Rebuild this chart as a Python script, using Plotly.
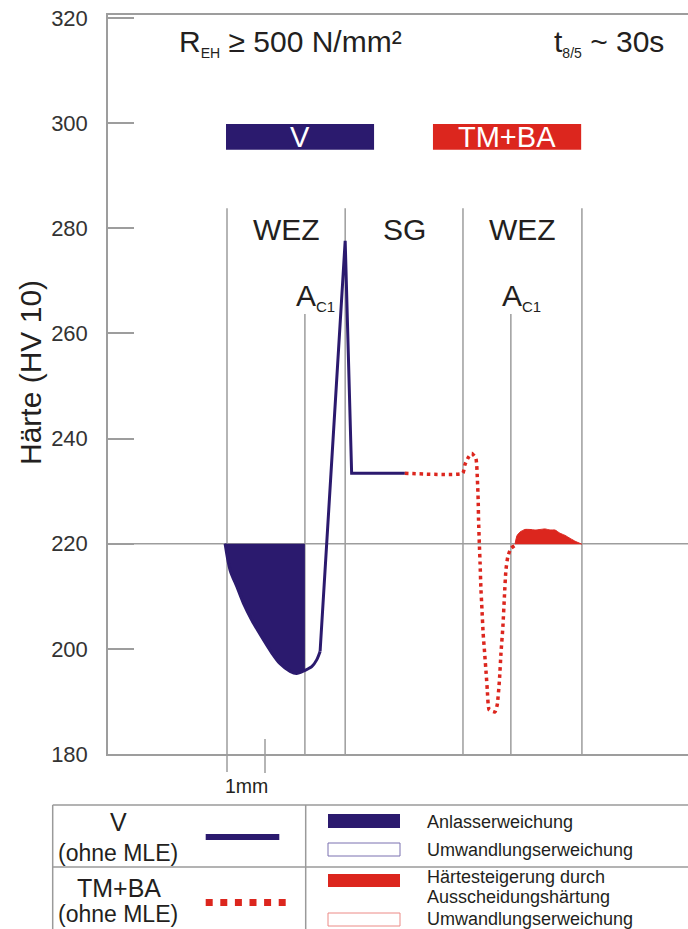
import plotly.graph_objects as go

# ---------------------------------------------------------------------------
# Data: hardness profile across the weld (distance in mm, hardness in HV 10)
# ---------------------------------------------------------------------------
# V steel (without MLE): tempering softening dip, steep peak at the fusion line,
# then the weld metal (SG) plateau
v_dist_mm = [-0.05, 0.08, 0.26, 0.43, 0.65, 0.91, 1.18, 1.39, 1.66, 1.83,
             2.05, 2.23, 2.36, 2.45, 3.11, 3.28, 4.68]
v_hardness = [220.0, 215.0, 211.8, 208.7, 205.5, 202.3, 199.2, 197.2, 195.7, 195.3,
              195.9, 196.6, 197.9, 199.5, 277.6, 233.4, 233.4]

# TM+BA steel (without MLE): weld metal plateau, small peak, deep
# transformation softening, recovery towards the base level
tm_dist_mm = [4.68, 6.20, 6.26, 6.35, 6.44, 6.55, 6.59, 6.61, 6.62, 6.64,
              6.66, 6.68, 6.71, 6.74, 6.78, 6.82, 6.85, 6.90, 7.05, 7.11,
              7.17, 7.21, 7.26, 7.30, 7.34, 7.39, 7.47, 7.58]
tm_hardness = [233.4, 233.4, 235.0, 236.4, 237.2, 236.2, 232.1, 228.3, 224.5, 220.1,
               216.3, 211.8, 207.4, 203.0, 199.2, 195.3, 192.2, 188.4, 188.0, 189.3,
               194.1, 199.2, 204.2, 209.9, 215.0, 217.5, 219.1, 219.7]

# TM+BA precipitation hardening region (above the base hardness)
ph_dist_mm = [7.58, 7.63, 7.71, 7.84, 7.97, 8.11, 8.24, 8.37, 8.50, 8.63,
              8.76, 8.89, 9.03, 9.18, 9.34]
ph_hardness = [219.9, 221.5, 222.2, 222.7, 222.7, 222.6, 222.7, 222.8, 222.6, 222.6,
               222.0, 221.6, 221.0, 220.4, 219.9]

base_hardness = 220
ac1_v_mm = 2.05          # A_C1 position, V side
zone_bounds_mm = [0.0, 3.11, 6.21, 9.34]   # HAZ / weld metal / HAZ borders
ac1_lines_mm = [2.05, 7.47]
zone_labels = ["WEZ", "SG", "WEZ"]
y_ticks = [180, 200, 220, 240, 260, 280, 300, 320]

NAVY = "#2b1a6e"
RED = "#dc261e"
GRID = "#9d9d9d"
TXT = "#231f20"
FONT = "Liberation Sans, Arial, sans-serif"

# plot frame in pixels
L, T, W, H = 108, 15, 580, 739
XMIN, XMAX = (108 - 227) / 38, (688 - 227) / 38
YMIN, YMAX = 180, 180 + H / 5.258


def xp(px):
    return (px - L) / W


def yp(py):
    return (T + H - py) / H


def xmm_paper(x):
    return (x - XMIN) / (XMAX - XMIN)


def label(x, y, text, size, xref="paper", yref="paper", xanchor="center",
          color=TXT, **kw):
    return dict(x=x, y=y, xref=xref, yref=yref, text=text, showarrow=False,
                xanchor=xanchor, yanchor="middle",
                font=dict(family=FONT, size=size, color=color), **kw)


fig = go.Figure()

# split of the V curve: smooth softening dip / straight peak + plateau
n_dip = v_dist_mm.index(2.45) + 1
n_fill = v_dist_mm.index(ac1_v_mm) + 1

# tempering softening: area between base hardness and the V curve up to A_C1
fig.add_trace(go.Scatter(
    x=[v_dist_mm[0], ac1_v_mm], y=[base_hardness, base_hardness],
    mode="lines", line=dict(width=0, color=NAVY), hoverinfo="skip",
    showlegend=False))
fig.add_trace(go.Scatter(
    x=v_dist_mm[:n_fill], y=v_hardness[:n_fill],
    mode="lines", fill="tonexty", fillcolor=NAVY,
    line=dict(color=NAVY, width=1, shape="spline", smoothing=0.8),
    hoverinfo="skip", showlegend=False))

# precipitation hardening (filled)
fig.add_trace(go.Scatter(
    x=ph_dist_mm, y=ph_hardness, mode="lines", fill="toself", fillcolor=RED,
    line=dict(color=RED, width=1, shape="spline", smoothing=0.6),
    hoverinfo="skip", showlegend=False))

# V curve
fig.add_trace(go.Scatter(
    x=v_dist_mm[:n_dip], y=v_hardness[:n_dip], mode="lines",
    line=dict(color=NAVY, width=3, shape="spline", smoothing=0.8),
    showlegend=False, name="V"))
fig.add_trace(go.Scatter(
    x=v_dist_mm[n_dip - 1:], y=v_hardness[n_dip - 1:], mode="lines",
    line=dict(color=NAVY, width=3), showlegend=False, name="V"))

# TM+BA curve
fig.add_trace(go.Scatter(
    x=tm_dist_mm, y=tm_hardness, mode="lines",
    line=dict(color=RED, width=3.5, dash="3.5px,3.8px", shape="spline", smoothing=0.5),
    showlegend=False, name="TM+BA"))

shapes = []
# base hardness line across the whole frame
shapes.append(dict(type="line", xref="paper", yref="y", x0=0, x1=1,
                   y0=base_hardness, y1=base_hardness,
                   line=dict(color=GRID, width=1.5), layer="below"))
# zone borders
for xb in zone_bounds_mm:
    shapes.append(dict(type="line", xref="x", yref="y", x0=xb, x1=xb,
                       y0=YMIN, y1=283.8, line=dict(color=GRID, width=1.5),
                       layer="below"))
for xb in ac1_lines_mm:
    shapes.append(dict(type="line", xref="x", yref="y", x0=xb, x1=xb,
                       y0=YMIN, y1=263.7, line=dict(color=GRID, width=1.5),
                       layer="below"))
# 1 mm scale bar below the axis
shapes.append(dict(type="line", xref="paper", yref="paper",
                   x0=xmm_paper(0), x1=xmm_paper(0), y0=yp(754), y1=yp(772),
                   line=dict(color=GRID, width=1.5)))
shapes.append(dict(type="line", xref="paper", yref="paper",
                   x0=xmm_paper(1), x1=xmm_paper(1), y0=yp(739), y1=yp(773),
                   line=dict(color=GRID, width=1.5)))

annotations = []
# steel grade boxes
grade_boxes = [("V", -0.026, 3.87, NAVY), ("TM+BA", 5.42, 9.32, RED)]
for name, x0, x1, col in grade_boxes:
    shapes.append(dict(type="rect", xref="x", yref="y", x0=x0, x1=x1,
                       y0=294.9, y1=299.8, fillcolor=col, line=dict(width=0)))
    annotations.append(label((x0 + x1) / 2, 297.35, name, 29, xref="x", yref="y",
                             color="white"))

# zone labels
for i, lab in enumerate(zone_labels):
    xc = (zone_bounds_mm[i] + zone_bounds_mm[i + 1]) / 2
    annotations.append(label(xc, 180 + (754 - 229) / 5.258, lab, 30,
                             xref="x", yref="y"))
# A_C1 labels
for xa in ac1_lines_mm:
    annotations.append(label(xa + 0.27, 180 + (754 - 297) / 5.258,
                             "A<sub><span style='font-size:15px'>C1</span></sub>", 30,
                             xref="x", yref="y"))

# header
annotations.append(label(xp(177), yp(43),
                         "R<sub><span style='font-size:14px'>EH</span></sub> ≥ 500 N/mm²",
                         30, xanchor="left"))
annotations.append(label(xp(666), yp(43),
                         "t<sub><span style='font-size:14px'>8/5</span></sub> ~ 30s",
                         30, xanchor="right"))
# y title
annotations.append(label(xp(31), yp(373), "Härte (HV 10)", 30, textangle=-90))
# scale bar label
annotations.append(label(xmm_paper(0.5), yp(786), "1mm", 19.5))

# ---------------------------------------------------------------------------
# Legend table
# ---------------------------------------------------------------------------
BOX = "#9a9a9a"
shapes += [
    dict(type="line", xref="paper", yref="paper", x0=xp(52.7), x1=xp(690),
         y0=yp(805), y1=yp(805), line=dict(color=BOX, width=1.5)),
    dict(type="line", xref="paper", yref="paper", x0=xp(52.7), x1=xp(52.7),
         y0=yp(805), y1=yp(935), line=dict(color=BOX, width=1.5)),
    dict(type="line", xref="paper", yref="paper", x0=xp(305.7), x1=xp(305.7),
         y0=yp(805), y1=yp(935), line=dict(color=BOX, width=1.5)),
    dict(type="line", xref="paper", yref="paper", x0=xp(52.7), x1=xp(690),
         y0=yp(867), y1=yp(867), line=dict(color=BOX, width=1.5)),
    # line samples
    dict(type="line", xref="paper", yref="paper", x0=xp(205.7), x1=xp(279.3),
         y0=yp(837), y1=yp(837), line=dict(color=NAVY, width=6)),
    dict(type="line", xref="paper", yref="paper", x0=xp(205.7), x1=xp(287),
         y0=yp(902.5), y1=yp(902.5), line=dict(color=RED, width=7, dash="7px,7.6px")),
    # area samples
    dict(type="rect", xref="paper", yref="paper", x0=xp(328), x1=xp(400),
         y0=yp(828), y1=yp(814), fillcolor=NAVY, line=dict(width=0)),
    dict(type="rect", xref="paper", yref="paper", x0=xp(328), x1=xp(400),
         y0=yp(856), y1=yp(843), fillcolor="white", line=dict(color="#7a70b0", width=1)),
    dict(type="rect", xref="paper", yref="paper", x0=xp(328), x1=xp(400),
         y0=yp(887), y1=yp(874), fillcolor=RED, line=dict(width=0)),
    dict(type="rect", xref="paper", yref="paper", x0=xp(328), x1=xp(400),
         y0=yp(926), y1=yp(913), fillcolor="white", line=dict(color="#ec8a86", width=1)),
]

legend_left = [("V", 118, 822, 25), ("(ohne MLE)", 118, 853, 23),
               ("TM+BA", 119, 888, 25), ("(ohne MLE)", 118, 914, 23)]
for txt, x, y, s in legend_left:
    annotations.append(label(xp(x), yp(y), txt, s))
legend_right = [("Anlasserweichung", 822), ("Umwandlungserweichung", 850),
                ("Härtesteigerung durch", 877), ("Ausscheidungshärtung", 897),
                ("Umwandlungserweichung", 919)]
for txt, y in legend_right:
    annotations.append(label(xp(425), yp(y), txt, 18, xanchor="left"))

fig.update_layout(
    width=688, height=929,
    margin=dict(l=L, r=688 - L - W, t=T, b=929 - T - H, pad=0),
    paper_bgcolor="white", plot_bgcolor="white",
    shapes=shapes, annotations=annotations,
    showlegend=False,
    xaxis=dict(range=[XMIN, XMAX], showticklabels=False, ticks="",
               showgrid=False, zeroline=False, showline=True, mirror=True,
               linecolor=GRID, linewidth=1.5, fixedrange=True),
    yaxis=dict(range=[YMIN, YMAX], tickvals=y_ticks,
               ticktext=[str(v) for v in y_ticks],
               ticks="inside", ticklen=26, tickwidth=1.5, tickcolor=GRID,
               showgrid=False, zeroline=False, showline=True, mirror=False,
               linecolor=GRID, linewidth=1.5, ticklabelstandoff=14,
               tickfont=dict(family=FONT, size=22, color="#333333"),
               fixedrange=True),
)

fig.write_html("out.html")
